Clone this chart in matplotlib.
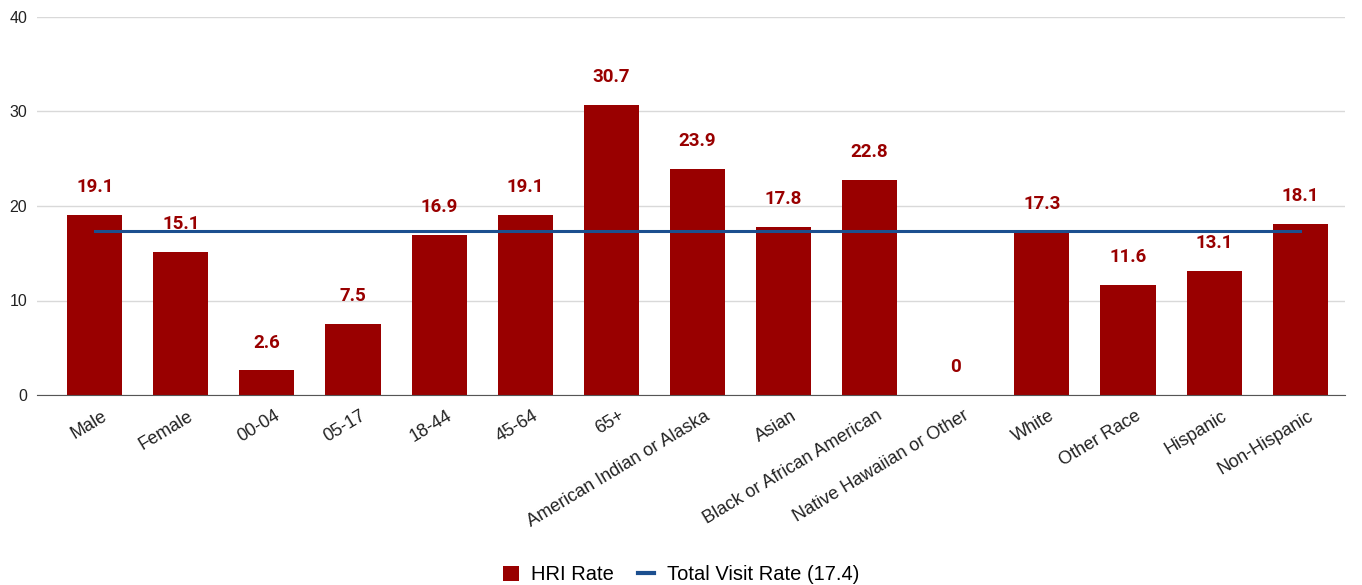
import matplotlib.pyplot as plt
import matplotlib.transforms as mtransforms
import numpy as np
from matplotlib.lines import Line2D
from matplotlib.patches import Patch

categories = ["Male", "Female", "00-04", "05-17", "18-44", "45-64", "65+",
              "American Indian or Alaska", "Asian", "Black or African American",
              "Native Hawaiian or Other", "White", "Other Race", "Hispanic",
              "Non-Hispanic"]
hri_rate = [19.1, 15.1, 2.6, 7.5, 16.9, 19.1, 30.7, 23.9, 17.8, 22.8, 0,
            17.3, 11.6, 13.1, 18.1]
total_visit_rate = [17.4] * len(categories)

bar_color = "#990000"
line_color = "#1c4f8f"

plt.rcParams["font.family"] = ["Liberation Sans", "DejaVu Sans"]

fig = plt.figure(figsize=(13.62, 5.85), dpi=100)
ax = fig.add_axes([37 / 1362, 190 / 585, 1308 / 1362, 378 / 585])

x = np.arange(len(categories))
ax.bar(x, hri_rate, width=0.64, color=bar_color, zorder=2)
ax.plot(x, total_visit_rate, color=line_color, linewidth=2.2, zorder=3)

for xi, v in zip(x, hri_rate):
    ax.text(xi, v + 2.0, f"{v:g}", ha="center", va="bottom", color=bar_color,
            fontsize=13.5, fontweight="bold", family="Roboto", zorder=4)

ax.set_ylim(0, 40)
ax.set_xlim(-0.67, 14.52)
ax.set_yticks([0, 10, 20, 30, 40])
ax.yaxis.grid(True, color="#d9d9d9", linewidth=1, zorder=0)
ax.set_axisbelow(True)
for s in ["top", "right", "left"]:
    ax.spines[s].set_visible(False)
ax.spines["bottom"].set_color("#555555")
ax.tick_params(axis="both", length=0, labelsize=11.5, colors="#222222")
ax.tick_params(axis="y", pad=7)

ax.set_xticks(x)
ax.set_xticklabels(categories, rotation=31, ha="right", rotation_mode="anchor",
                   fontsize=13, color="#222222")
ax.tick_params(axis="x", pad=9)
shift = mtransforms.ScaledTranslation(7 / 100, 0, fig.dpi_scale_trans)
for lab in ax.get_xticklabels():
    lab.set_transform(lab.get_transform() + shift)

handles = [Patch(facecolor=bar_color, label="HRI Rate"),
           Line2D([0], [0], color=line_color, linewidth=3, label="Total Visit Rate (17.4)")]
fig.legend(handles=handles, loc="lower center", bbox_to_anchor=(0.5, -0.03),
           ncol=2, frameon=False, fontsize=14.5, handlelength=0.8, handleheight=0.8,
           columnspacing=1.2, handletextpad=0.6)

fig.savefig("out.png", dpi=100)
